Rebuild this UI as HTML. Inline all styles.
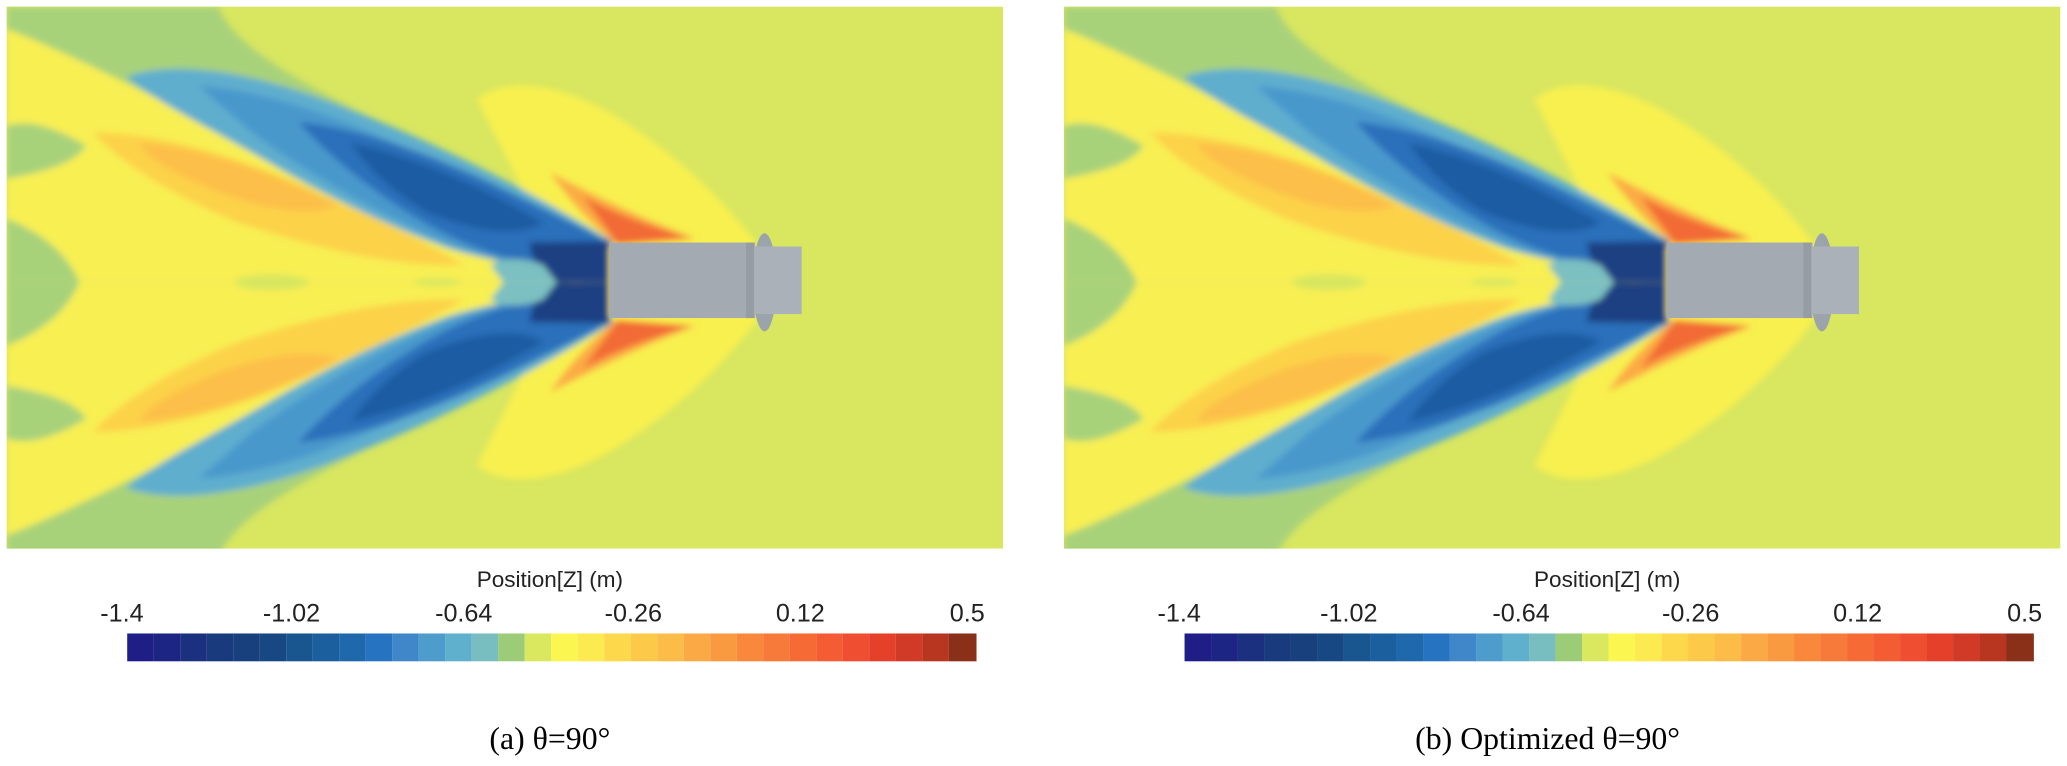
<!DOCTYPE html>
<html><head><meta charset="utf-8"><style>
html,body{margin:0;padding:0;background:#fff;}
svg{display:block;}
</style></head><body>
<svg width="2067" height="766" viewBox="0 0 1560 578" preserveAspectRatio="none" xmlns="http://www.w3.org/2000/svg">
<defs>
<clipPath id="top"><rect x="0" y="0" width="760" height="213"/></clipPath>
<clipPath id="panel"><rect x="5" y="5" width="752" height="409"/></clipPath>
<filter id="bl" x="-5%" y="-5%" width="110%" height="110%"><feGaussianBlur stdDeviation="2.5"/></filter>
<g id="half">
 <g clip-path="url(#top)">
  <path d="M5,5 L165,5 C175,35 230,65 300,98 C345,118 380,140 410,165 L460,213 L5,213 Z" fill="#a8d27a"/>
  <path d="M360,75 C380,58 420,62 460,85 C510,115 545,150 572,185 L575,213 L430,213 Z" fill="#f8f050"/>
  <path d="M5,22 C40,35 90,60 140,85 C200,110 280,140 340,160 L420,200 L440,213 L60,213 C50,190 30,175 5,165 L5,135 C30,130 55,125 65,110 C40,95 20,90 5,95 Z" fill="#f8ef52"/>
  <path d="M70,100 C130,100 200,125 260,155 C300,172 330,188 350,200 C300,202 240,188 180,168 C130,148 90,122 70,100 Z" fill="#fcd24a"/>
  <path d="M105,108 C160,112 210,132 255,155 C230,165 190,155 160,143 C130,130 112,120 105,108 Z" fill="#fcbf48"/>
  <!-- light blue band -->
  <path d="M95,58 C140,42 210,60 270,85 C340,112 410,150 462,182 L448,206 C410,204 375,198 340,188 C290,170 240,145 195,118 C155,95 120,78 95,58 Z" fill="#5eaece"/>
  <path d="M150,65 C205,68 265,92 325,120 C385,148 435,170 462,184 L448,206 C405,204 365,196 330,180 C280,158 230,130 190,100 Z" fill="#4a98cc"/>
  <!-- dark blue core -->
  <path d="M225,92 C280,98 340,122 395,150 C425,165 448,176 462,184 L450,206 C410,204 372,194 335,176 C290,152 252,122 225,92 Z" fill="#2a6fba"/>
  <path d="M265,108 C320,120 365,142 410,168 C390,180 355,174 322,160 C295,144 277,126 265,108 Z" fill="#1e5ca2"/>
  <path d="M400,183 L460,182 L460,213 L420,213 C408,205 400,195 400,183 Z" fill="#1b3f82"/>
  <path d="M370,200 C380,194 395,194 410,200 L420,213 L380,213 Z" fill="#7cc0c2"/>
  <!-- orange/red near hull -->
  <path d="M415,130 C450,148 485,165 525,180 L465,185 C450,172 432,155 415,130 Z" fill="#fbab44"/>
  <path d="M440,148 C465,162 495,172 522,180 L466,184 C458,173 450,162 440,148 Z" fill="#f26a34"/>
  <ellipse cx="205" cy="213" rx="28" ry="6" fill="#d8e65f"/>
  <ellipse cx="330" cy="213" rx="18" ry="3" fill="#d8e65f"/>
 </g>
</g>
<g id="field">
 <g clip-path="url(#panel)">
  <rect x="5" y="5" width="752" height="409" fill="#d8e660"/>
  <g filter="url(#bl)">
   <use href="#half"/>
   <use href="#half" transform="translate(0,426) scale(1,-1)"/>
  </g>
  <ellipse cx="577" cy="213" rx="9" ry="37" fill="#9ba3ab"/>
  <rect x="460" y="183" width="110" height="57" fill="#a3aab2"/>
  <rect x="565" y="186" width="40" height="51" fill="#aab1b9"/>
  <rect x="563" y="183" width="6" height="57" fill="#959ca4"/>
 </g>
</g>
</defs>

<use href="#field"/>
<use href="#field" transform="translate(798,0)"/>

<g id="cb">
 <rect x="96" y="478" width="20.03" height="21" fill="#1f1d86"/>
 <rect x="116" y="478" width="20.03" height="21" fill="#1d2584"/>
 <rect x="136" y="478" width="20.03" height="21" fill="#1c3080"/>
 <rect x="156" y="478" width="20.03" height="21" fill="#1a3a7e"/>
 <rect x="176" y="478" width="20.03" height="21" fill="#18407c"/>
 <rect x="196" y="478" width="20.03" height="21" fill="#174884"/>
 <rect x="216" y="478" width="20.03" height="21" fill="#195690"/>
 <rect x="236" y="478" width="20.03" height="21" fill="#1c5f9e"/>
 <rect x="256" y="478" width="20.03" height="21" fill="#2068ac"/>
 <rect x="276" y="478" width="20.03" height="21" fill="#2673c2"/>
 <rect x="296" y="478" width="20.03" height="21" fill="#3f87c8"/>
 <rect x="316" y="478" width="20.03" height="21" fill="#4e9ccc"/>
 <rect x="336" y="478" width="20.03" height="21" fill="#5eb0cd"/>
 <rect x="356" y="478" width="20.03" height="21" fill="#78bec0"/>
 <rect x="376" y="478" width="20.03" height="21" fill="#9ccc78"/>
 <rect x="396" y="478" width="20.03" height="21" fill="#d9e85e"/>
 <rect x="416" y="478" width="20.03" height="21" fill="#fbf650"/>
 <rect x="436" y="478" width="20.03" height="21" fill="#fbeb50"/>
 <rect x="456" y="478" width="20.03" height="21" fill="#fcd84a"/>
 <rect x="476" y="478" width="20.03" height="21" fill="#fcc948"/>
 <rect x="496" y="478" width="20.03" height="21" fill="#fcbc48"/>
 <rect x="516" y="478" width="20.03" height="21" fill="#fba944"/>
 <rect x="536" y="478" width="20.03" height="21" fill="#fa9a40"/>
 <rect x="556" y="478" width="20.03" height="21" fill="#f9883c"/>
 <rect x="576" y="478" width="20.03" height="21" fill="#f87a3a"/>
 <rect x="596" y="478" width="20.03" height="21" fill="#f66a36"/>
 <rect x="616" y="478" width="20.03" height="21" fill="#f45c34"/>
 <rect x="636" y="478" width="20.03" height="21" fill="#f04e30"/>
 <rect x="656" y="478" width="20.03" height="21" fill="#e5402a"/>
 <rect x="676" y="478" width="20.03" height="21" fill="#d03a26"/>
 <rect x="696" y="478" width="20.03" height="21" fill="#b83620"/>
 <rect x="716" y="478" width="21" height="21" fill="#8a3018"/>
 <g font-family="'Liberation Sans', 'DejaVu Sans', sans-serif" fill="#222" text-anchor="middle">
  <text x="415" y="443" font-size="17">Position[Z] (m)</text>
  <text x="92" y="469" font-size="19">-1.4</text>
  <text x="220" y="469" font-size="19">-1.02</text>
  <text x="350" y="469" font-size="19">-0.64</text>
  <text x="478" y="469" font-size="19">-0.26</text>
  <text x="604" y="469" font-size="19">0.12</text>
  <text x="730" y="469" font-size="19">0.5</text>
 </g>
</g>
<use href="#cb" transform="translate(798,0)"/>

<g font-family="'Liberation Serif', serif" font-size="24" fill="#000" text-anchor="middle">
 <text x="415" y="565">(a) θ=90°</text>
 <text x="1168" y="565">(b) Optimized θ=90°</text>
</g>
</svg>
</body></html>
